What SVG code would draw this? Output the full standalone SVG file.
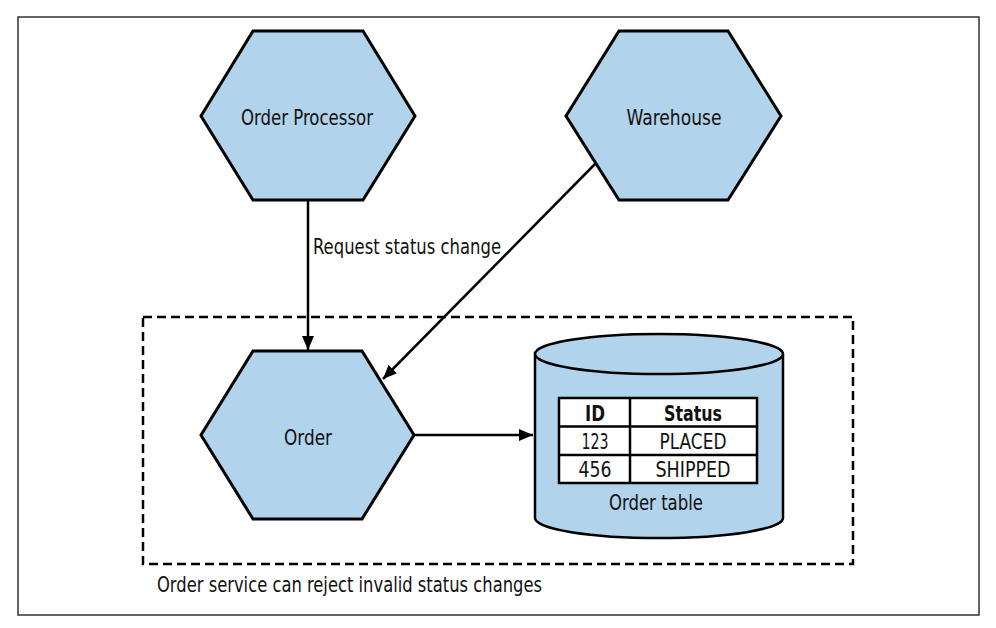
<svg xmlns="http://www.w3.org/2000/svg" width="996" height="628" viewBox="0 0 996 628">
  <defs>
    <marker id="arrow" viewBox="0 0 14 12" refX="14" refY="6" markerWidth="14" markerHeight="12" markerUnits="userSpaceOnUse" orient="auto">
      <path d="M0,0 L14,6 L0,12 Z" fill="#000"/>
    </marker>
    <style>
      .hex { fill: #b1d3eb; stroke: #000; stroke-width: 3; stroke-linejoin: miter; }
      .lbl { font-family: "DejaVu Sans Condensed", "Liberation Sans", sans-serif; font-size: 21px; fill: #111; }
      .mid { text-anchor: middle; }
      .bold { font-weight: bold; }
      .conn { stroke: #000; stroke-width: 2.5; fill: none; marker-end: url(#arrow); }
      .cell { fill: #fff; stroke: #000; stroke-width: 2.5; }
    </style>
  </defs>
  <rect x="0" y="0" width="996" height="628" fill="#fff"/>
  <rect x="18" y="17" width="961" height="598" fill="none" stroke="#333" stroke-width="1.5"/>

  <g id="boundary">
    <rect x="143" y="317" width="710" height="247" fill="none" stroke="#000" stroke-width="2.5" stroke-dasharray="9,5"/>
    <text class="lbl" x="157" y="592" textLength="385" lengthAdjust="spacingAndGlyphs">Order service can reject invalid status changes</text>
  </g>

  <g id="order-processor">
    <polygon class="hex" points="253,31 363,31 415,116 363,200 253,200 201,116"/>
    <text class="lbl mid" x="307" y="125" textLength="132" lengthAdjust="spacingAndGlyphs">Order Processor</text>
  </g>

  <g id="warehouse">
    <polygon class="hex" points="619,31 728,31 781,116 728,200 619,200 566,116"/>
    <text class="lbl mid" x="674" y="125" textLength="95" lengthAdjust="spacingAndGlyphs">Warehouse</text>
  </g>

  <g id="order">
    <polygon class="hex" points="253,351 362,351 414,435 362,519 253,519 201,435"/>
    <text class="lbl mid" x="308" y="445" textLength="48" lengthAdjust="spacingAndGlyphs">Order</text>
  </g>

  <g id="order-table">
    <path d="M535,354 L535,518 A124,20 0 0 0 783,518 L783,354" fill="#b1d3eb" stroke="#000" stroke-width="2.5"/>
    <ellipse cx="659" cy="354" rx="124" ry="20" fill="#b1d3eb" stroke="#000" stroke-width="2.5"/>
    <rect class="cell" x="559" y="398" width="198" height="85"/>
    <line x1="559" y1="426.5" x2="757" y2="426.5" stroke="#000" stroke-width="2.5"/>
    <line x1="559" y1="455" x2="757" y2="455" stroke="#000" stroke-width="2.5"/>
    <line x1="630" y1="398" x2="630" y2="483" stroke="#000" stroke-width="2.5"/>
    <text class="lbl mid bold" x="595" y="421" textLength="20" lengthAdjust="spacingAndGlyphs">ID</text>
    <text class="lbl mid bold" x="693" y="421" textLength="58" lengthAdjust="spacingAndGlyphs">Status</text>
    <text class="lbl mid" x="595" y="449" textLength="27" lengthAdjust="spacingAndGlyphs">123</text>
    <text class="lbl mid" x="693" y="449" textLength="67" lengthAdjust="spacingAndGlyphs">PLACED</text>
    <text class="lbl mid" x="595" y="477" textLength="33" lengthAdjust="spacingAndGlyphs">456</text>
    <text class="lbl mid" x="693" y="477" textLength="75" lengthAdjust="spacingAndGlyphs">SHIPPED</text>
    <text class="lbl mid" x="656" y="510" textLength="94" lengthAdjust="spacingAndGlyphs">Order table</text>
  </g>

  <g id="connectors">
    <line class="conn" x1="308" y1="200" x2="308" y2="350"/>
    <text class="lbl" x="313" y="254" textLength="188" lengthAdjust="spacingAndGlyphs">Request status change</text>
    <line class="conn" x1="596" y1="163" x2="383" y2="379"/>
    <line class="conn" x1="414" y1="435" x2="533" y2="435"/>
  </g>
</svg>
